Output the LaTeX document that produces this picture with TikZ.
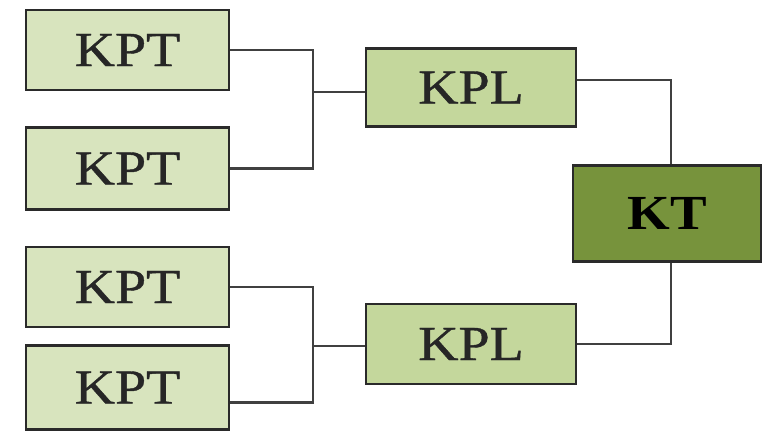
\documentclass[tikz,border=0pt]{standalone}
\usepackage{fontspec}
\setmainfont[FakeStretch=1.12]{Liberation Serif}
\newfontfamily\boxfont[FakeStretch=1.14,FakeBold=0.8]{Liberation Serif}
\definecolor{kptfill}{HTML}{D8E4BE}
\definecolor{kplfill}{HTML}{C4D79C}
\definecolor{ktfill}{HTML}{77933C}
\definecolor{edgecol}{HTML}{2A2A2A}
\definecolor{wirecol}{HTML}{404040}
\begin{document}
\begin{tikzpicture}[x=1pt,y=-1pt,
  box/.style={draw=edgecol, line width=2.5pt, inner sep=0pt, text=black!85,
    font=\boxfont\fontsize{49}{49}\selectfont},
  kpt/.style={box, fill=kptfill, minimum width=203pt},
  kpl/.style={box, fill=kplfill, minimum width=210pt},
  kt/.style={box, fill=ktfill, minimum width=188pt, minimum height=96pt,
    font=\fontsize{49}{49}\selectfont\bfseries, text=black},
  wire/.style={draw=wirecol, line width=2.3pt}]
\useasboundingbox (0,0) rectangle (781,440);
\node[kpt, minimum height=80pt] (kpt1) at (127.5,50) {KPT};
\node[kpt, minimum height=82pt] (kpt2) at (127.5,168.5) {KPT};
\node[kpt, minimum height=80pt] (kpt3) at (127.5,287) {KPT};
\node[kpt, minimum height=84pt] (kpt4) at (127.5,387.5) {KPT};
\node[kpl, minimum height=78pt] (kpl1) at (471,87.5) {KPL};
\node[kpl, minimum height=80pt] (kpl2) at (471,344) {KPL};
\node[kt] (kt) at (667,213.5) {KT};
\coordinate (j1) at (313,92);
\coordinate (j2) at (313,346);
\draw[wire] (kpt1.east) -| (j1) |- (kpt2.east);
\draw[wire] (j1) -- (j1 -| kpl1.west);
\draw[wire] (kpt3.east) -| (j2) |- ([yshift=-15pt]kpt4.east);
\draw[wire] (j2) -- (j2 -| kpl2.west);
\draw[wire] ([yshift=7.5pt]kpl1.east) -| ([xshift=4pt]kt.north);
\draw[wire] ([xshift=4pt]kt.south) |- (kpl2.east);
\end{tikzpicture}
\end{document}
